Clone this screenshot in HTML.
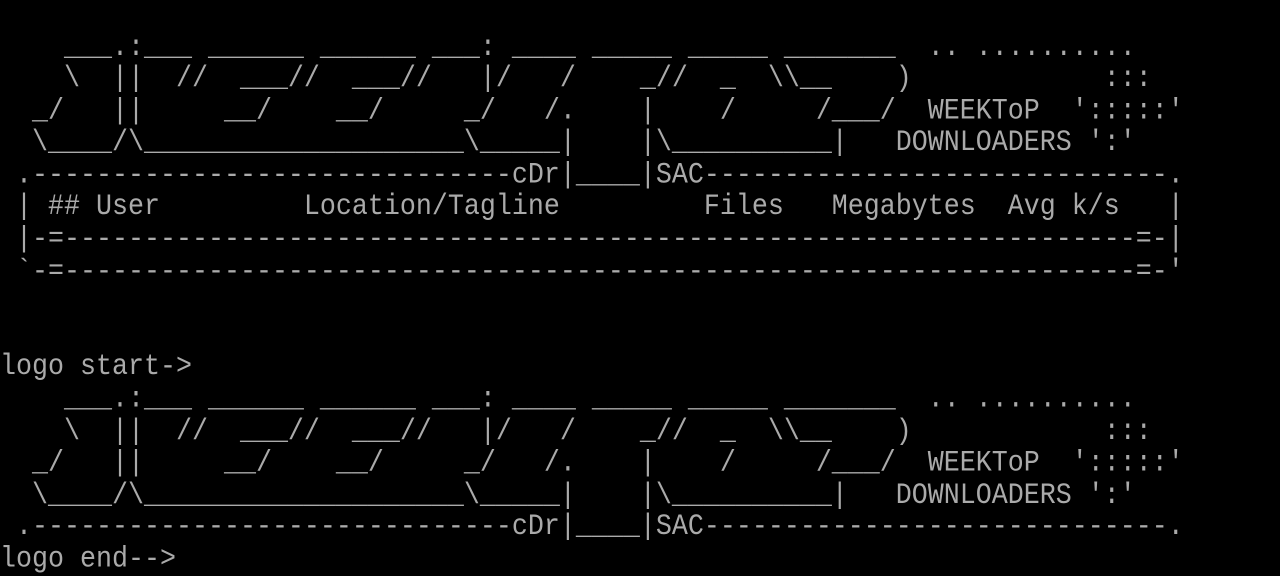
<!DOCTYPE html>
<html><head><meta charset="utf-8"><style>
html,body{margin:0;padding:0;background:#000;width:1280px;height:576px;overflow:hidden}
pre{margin:0;padding:0;font-family:"Liberation Mono","DejaVu Sans Mono",monospace;font-size:26.667px;line-height:28.571px;color:#aaaaaa;white-space:pre;transform:scaleY(1.12);transform-origin:0 0}
</style></head><body><pre>

    ___.:___ ______ ______ ___: ____ _____ _____ _______  .. ..........
    \  ||  //  ___//  ___//   |/   /    _//  _  \\__    )            :::
  _/   ||     __/    __/     _/   /.    |    /     /___/  WEEKToP  ':::::'
  \____/\____________________\_____|    |\__________|   DOWNLOADERS ':'
 .------------------------------cDr|____|SAC-----------------------------.
 | ## User         Location/Tagline         Files   Megabytes  Avg k/s   |
 |-=-------------------------------------------------------------------=-|
 `-=-------------------------------------------------------------------=-'


logo start-&gt;
    ___.:___ ______ ______ ___: ____ _____ _____ _______  .. ..........
    \  ||  //  ___//  ___//   |/   /    _//  _  \\__    )            :::
  _/   ||     __/    __/     _/   /.    |    /     /___/  WEEKToP  ':::::'
  \____/\____________________\_____|    |\__________|   DOWNLOADERS ':'
 .------------------------------cDr|____|SAC-----------------------------.
logo end--&gt;</pre></body></html>
